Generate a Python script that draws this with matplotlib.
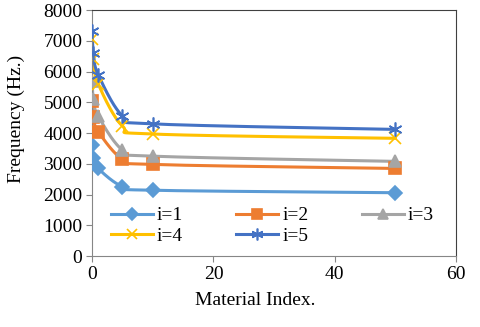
import numpy as np
import matplotlib
matplotlib.use("Agg")
import matplotlib.pyplot as plt

# data
material_index = [0, 0.2, 1, 5, 10, 50]
freq_i1 = [3620, 3200, 2850, 2260, 2140, 2060]
freq_i2 = [5050, 4520, 4050, 3150, 2980, 2850]
freq_i3 = [5700, 5100, 4550, 3450, 3250, 3080]
freq_i4 = [7050, 6400, 5600, 4230, 3970, 3830]
freq_i5 = [7330, 6600, 5900, 4560, 4300, 4120]
labels = ["i=1", "i=2", "i=3", "i=4", "i=5"]

plt.rcParams["font.family"] = ["Liberation Serif", "DejaVu Serif"]


def smooth(x, y, n=30):
    # Excel style smoothed line: cubic bezier through the points
    x = np.asarray(x, float)
    y = np.asarray(y, float)
    px, py = [], []
    for k in range(len(x) - 1):
        x0, y0 = (x[k - 1], y[k - 1]) if k > 0 else (x[k], y[k])
        x3, y3 = (x[k + 2], y[k + 2]) if k + 2 < len(x) else (x[k + 1], y[k + 1])
        c1 = (x[k] + (x[k + 1] - x0) / 6, y[k] + (y[k + 1] - y0) / 6)
        c2 = (x[k + 1] - (x3 - x[k]) / 6, y[k + 1] - (y3 - y[k]) / 6)
        t = np.linspace(0, 1, n)
        bx = (1 - t) ** 3 * x[k] + 3 * (1 - t) ** 2 * t * c1[0] + 3 * (1 - t) * t ** 2 * c2[0] + t ** 3 * x[k + 1]
        by = (1 - t) ** 3 * y[k] + 3 * (1 - t) ** 2 * t * c1[1] + 3 * (1 - t) * t ** 2 * c2[1] + t ** 3 * y[k + 1]
        px.extend(bx)
        py.extend(by)
    return px, py


fig = plt.figure(figsize=(4.8, 3.27), dpi=100)
ax = fig.add_axes([0.192, 0.217, 0.758, 0.752])

series = [freq_i1, freq_i2, freq_i3, freq_i4, freq_i5]
colors = ["#5B9BD5", "#ED7D31", "#A5A5A5", "#FFC000", "#4472C4"]
markers = ["D", "s", "^", "x", (6, 2, 0)]
msizes = [7, 8, 8, 9, 10]

handles = []
for vals, c, m, ms, lab in zip(series, colors, markers, msizes, labels):
    sx, sy = smooth(material_index, vals)
    ax.plot(sx, sy, color=c, lw=2.2, zorder=2)
    ax.plot(material_index, vals, ls="none", marker=m, ms=ms, color=c,
            mec=c, mew=1.2, zorder=3)
    h, = ax.plot([], [], color=c, lw=2.2, marker=m, ms=ms * 0.85, mec=c, mew=1.2)
    handles.append(h)

ax.set_xlim(0, 60)
ax.set_ylim(0, 8000)
ax.set_xticks([0, 20, 40, 60])
ax.set_yticks(range(0, 8001, 1000))
ax.tick_params(labelsize=14, colors="black", length=4, width=0.8, pad=3)
ax.tick_params(axis="both", color="#868686")
for s in ["left", "bottom"]:
    ax.spines[s].set_color("#868686")
for s in ["top", "right"]:
    ax.spines[s].set_color("#404040")
ax.set_xlabel("Material Index.", fontsize=14)
ax.set_ylabel("Frequency (Hz.)", fontsize=14)
ax.xaxis.set_label_coords(0.448, -0.146)
ax.yaxis.set_label_coords(-0.184, 0.557)

# matplotlib fills legend column by column; reorder so rows read i=1,i=2,i=3 / i=4,i=5
order = [0, 3, 1, 4, 2]
ax.legend([handles[k] for k in order], [labels[k] for k in order], ncol=3,
          loc="upper left", bbox_to_anchor=(0.052, 0.2), frameon=False,
          fontsize=14, handlelength=2.15, handletextpad=0.2, columnspacing=2.75,
          labelspacing=0.15, borderpad=0, borderaxespad=0)

fig.savefig("out.png", dpi=100)
